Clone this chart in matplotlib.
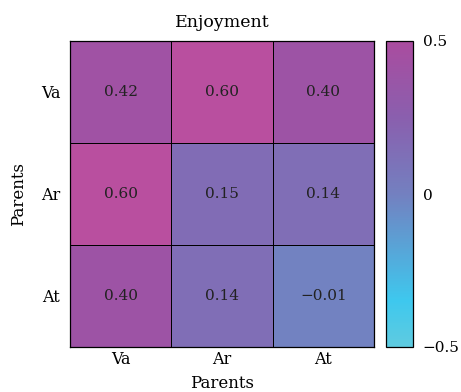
import numpy as np
import matplotlib
matplotlib.use("Agg")
from matplotlib import pyplot as plt
from matplotlib.colors import LinearSegmentedColormap, Normalize

labels = ['Va', 'Ar', 'At']
values = [[0.42, 0.60, 0.40],
          [0.60, 0.15, 0.14],
          [0.40, 0.14, -0.01]]
cbar_ticks = [-0.5, 0, 0.5]

plt.rcParams['font.family'] = ['DejaVu Serif']
plt.rcParams['font.size'] = 11
plt.rcParams['axes.unicode_minus'] = True

cmap = LinearSegmentedColormap.from_list('enj', [
    (0.0, '#5fcbe0'),
    (0.15, '#3ec8ee'),
    (0.5, '#7380c0'),
    (0.75, '#8a5fae'),
    (1.0, '#aa4c9f'),
])
cmap.set_over('#b94f9f')
norm = Normalize(vmin=-0.5, vmax=0.5)

fig = plt.figure(figsize=(4.61, 3.92), dpi=100)
ax = fig.add_axes([70/461, 1-347/392, 304/461, 306/392])
cax = fig.add_axes([386/461, 1-347/392, 27/461, 306/392])

data = np.array(values)
mesh = ax.pcolormesh(data, cmap=cmap, norm=norm, edgecolors='black', linewidth=0.6)
ax.set_xlim(0, 3)
ax.set_ylim(3, 0)
ax.set_xticks(np.arange(3) + 0.5)
ax.set_xticklabels(labels, fontsize=11.5)
ax.set_yticks(np.arange(3) + 0.5)
ax.set_yticklabels(labels, fontsize=11.5)
ax.tick_params(axis='x', length=0, pad=3)
ax.tick_params(axis='y', length=0, pad=7)
for s in ax.spines.values():
    s.set_linewidth(0.9)

for i in range(3):
    for j in range(3):
        v = values[i][j]
        txt = f'{v:.2f}'.replace('-', '\u2212')
        ax.text(j + 0.5, i + 0.5, txt, ha='center', va='center', color='#222222')

ax.set_title('Enjoyment', pad=10, fontsize=12.5)
ax.set_xlabel('Parents', labelpad=5, fontsize=12)
ax.set_ylabel('Parents', labelpad=10, fontsize=12)

cb = fig.colorbar(mesh, cax=cax, extend='neither')
cb.set_ticks(cbar_ticks)
cb.set_ticklabels(['\u22120.5', '0', '0.5'])
cax.tick_params(length=0, pad=7, labelsize=11)
cb.outline.set_linewidth(0.9)

fig.savefig('out.png', dpi=100)
